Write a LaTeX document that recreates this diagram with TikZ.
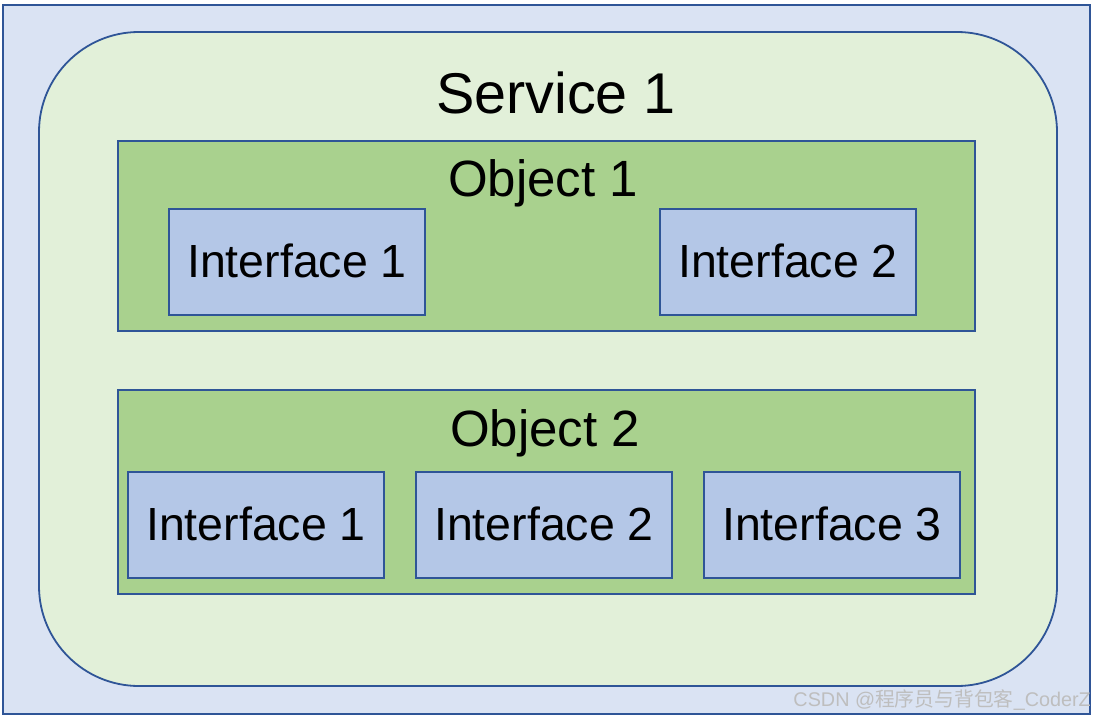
\documentclass[tikz,border=0pt]{standalone}
\usepackage{fontspec}
\setmainfont{Liberation Sans}
\newfontfamily\cjk{Noto Sans CJK SC}
\definecolor{bordc}{HTML}{2F5597}
\definecolor{outerf}{HTML}{DAE3F3}
\definecolor{svcf}{HTML}{E2F0D9}
\definecolor{objf}{HTML}{A9D18E}
\definecolor{iff}{HTML}{B4C7E7}
\definecolor{wmc}{HTML}{BEBEBE}
\tikzset{
  box/.style={draw=bordc, line width=1.8pt, inner sep=0pt, rectangle},
  ifbox/.style={box, fill=iff, minimum width=256pt, minimum height=106pt},
  objbox/.style={box, fill=objf, minimum width=857pt},
  lbl/.style={anchor=base, inner sep=0pt, text=black},
}
\begin{document}
\begin{tikzpicture}[x=1pt,y=-1pt]
\useasboundingbox (0,0) rectangle (1095,717);
\node[box, fill=outerf, minimum width=1087pt, minimum height=709pt] (outer) at (546.5,359.5) {};
\node[box, fill=svcf, rounded corners=100pt, minimum width=1018pt, minimum height=654pt] (svc) at (548,359) {};
\node[lbl, font=\fontsize{57.5}{57.5}\selectfont] (svct) at (556,113) {Service 1};
\node[objbox, minimum height=190pt] (obj1) at (546.5,236) {};
\node[lbl, font=\fontsize{51}{51}\selectfont] (obj1t) at (543,196) {Object 1};
\node[objbox, minimum height=204pt] (obj2) at (546.5,492) {};
\node[lbl, font=\fontsize{51}{51}\selectfont] (obj2t) at (545,446) {Object 2};
\node[ifbox] (i11) at (297,262) {};
\node[lbl, font=\fontsize{46.5}{46.5}\selectfont] at (i11.center |- 0,277) {Interface 1};
\node[ifbox] (i12) at (788,262) {};
\node[lbl, font=\fontsize{46.5}{46.5}\selectfont] at (i12.center |- 0,277) {Interface 2};
\node[ifbox] (i21) at (256,525) {};
\node[lbl, font=\fontsize{46.5}{46.5}\selectfont] at (i21.center |- 0,540) {Interface 1};
\node[ifbox] (i22) at (544,525) {};
\node[lbl, font=\fontsize{46.5}{46.5}\selectfont] at (i22.center |- 0,540) {Interface 2};
\node[ifbox] (i23) at (832,525) {};
\node[lbl, font=\fontsize{46.5}{46.5}\selectfont] at (i23.center |- 0,540) {Interface 3};
\node[anchor=base east, inner sep=0pt, text=wmc, font=\fontsize{19.8}{19.8}\selectfont] (wm) at (1091,706) {CSDN @{\cjk 程序员与背包客}\_CoderZ};
\end{tikzpicture}
\end{document}
